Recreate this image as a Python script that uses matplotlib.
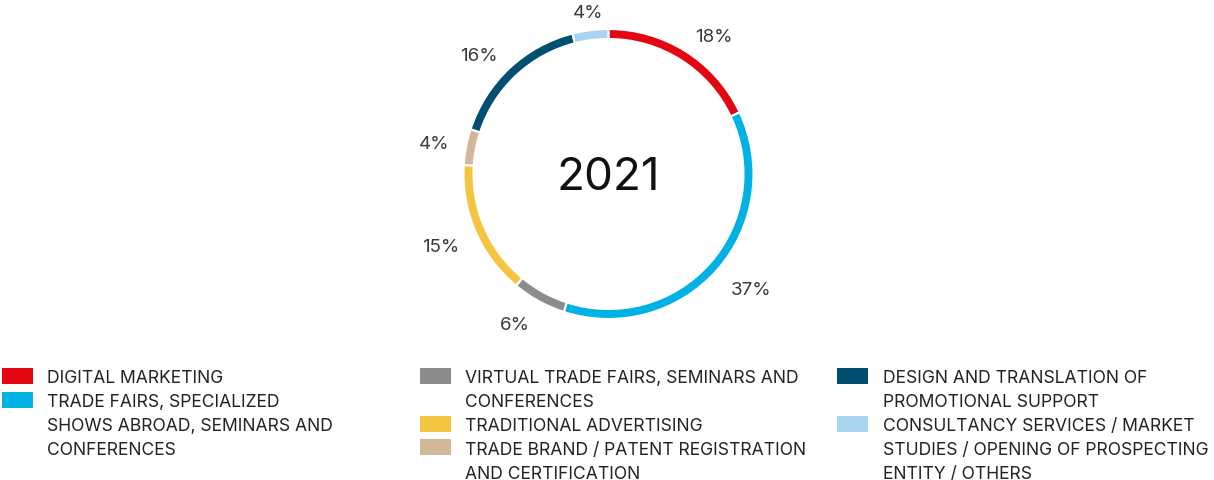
import numpy as np
import matplotlib
matplotlib.use("Agg")
import matplotlib.pyplot as plt

plt.rcParams['font.family'] = ['Inter', 'DejaVu Sans']

categories = [
    "DIGITAL MARKETING",
    "TRADE FAIRS, SPECIALIZED\nSHOWS ABROAD, SEMINARS AND\nCONFERENCES",
    "VIRTUAL TRADE FAIRS, SEMINARS AND\nCONFERENCES",
    "TRADITIONAL ADVERTISING",
    "TRADE BRAND / PATENT REGISTRATION\nAND CERTIFICATION",
    "DESIGN AND TRANSLATION OF\nPROMOTIONAL SUPPORT",
    "CONSULTANCY SERVICES / MARKET\nSTUDIES / OPENING OF PROSPECTING\nENTITY / OTHERS",
]
values = [18, 37, 6, 15, 4, 16, 4]
colors = ["#E30613", "#00B2E3", "#8C8C8E", "#F5C542", "#D2B79B", "#004F71", "#A8D4F0"]
center_label = "2021"
legend_columns = [[0, 1], [2, 3, 4], [5, 6]]

W, H = 1214, 481
fig = plt.figure(figsize=(W / 100, H / 100), dpi=100)

# donut axes
cx, cy, R = 608.5, 175, 145
ax = fig.add_axes([(cx - R) / W, (H - cy - R) / H, 2 * R / W, 2 * R / H])
wedges, _ = ax.pie(values, colors=colors, startangle=90, counterclock=False,
                   radius=1.0, wedgeprops=dict(width=10 / R, edgecolor="white", linewidth=1.5))
ax.set_xlim(-1, 1)
ax.set_ylim(-1, 1)
ax.set_aspect("equal")
ax.axis("off")

ax.text(0, -0.02, center_label, ha="center", va="center", fontsize=33, color="#111111")

for w, v in zip(wedges, values):
    ang = np.deg2rad((w.theta1 + w.theta2) / 2)
    c, s = np.cos(ang), np.sin(ang)
    r = 1.12
    ha = "left" if c > 0.2 else ("right" if c < -0.2 else "center")
    va = "top" if s < -0.3 else "center"
    ax.text(r * c, r * s, f"{v}%", ha=ha, va=va,
            fontsize=13.5, color="#3a3a3a", clip_on=False)

# legend
col_sq_x = [2, 420, 837]
col_tx_x = [47, 465, 883]
line0 = 377
dy = 23.8
sq_w, sq_h = 31, 16
for c, idxs in enumerate(legend_columns):
    line = 0
    for i in idxs:
        ycen = line0 + line * dy
        fig.patches.append(plt.Rectangle((col_sq_x[c] / W, (H - ycen - sq_h / 2) / H),
                                         sq_w / W, sq_h / H, transform=fig.transFigure,
                                         facecolor=colors[i], edgecolor="none"))
        lines = categories[i].split("\n")
        for k, t in enumerate(lines):
            fig.text(col_tx_x[c] / W, (H - (ycen + k * dy)) / H, t, ha="left", va="center_baseline",
                     fontsize=12.6, color="#222222")
        line += len(lines)

fig.savefig("out.png", dpi=100)
